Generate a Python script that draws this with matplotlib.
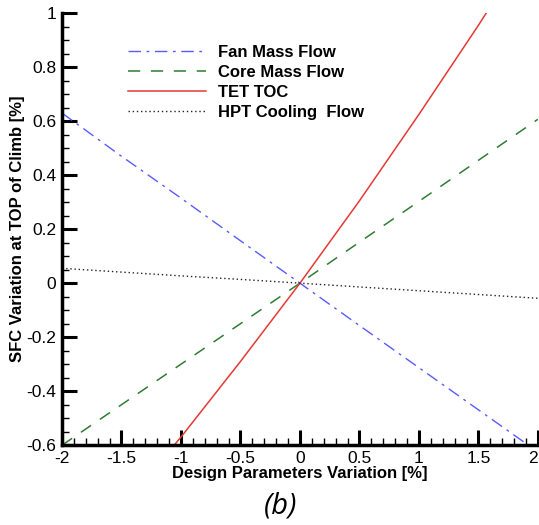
import matplotlib.pyplot as plt
import numpy as np

variation = np.array([-2.0, -1.5, -1.0, -0.5, 0.0, 0.5, 1.0, 1.5, 2.0])
fan_mass_flow = np.array([0.63, 0.47, 0.315, 0.157, 0.0, -0.157, -0.313, -0.469, -0.625])
core_mass_flow = np.array([-0.60, -0.45, -0.30, -0.15, 0.0, 0.152, 0.303, 0.455, 0.607])
tet_toc = np.array([-1.08, -0.83, -0.57, -0.29, 0.0, 0.305, 0.625, 0.955, 1.30])
hpt_cooling = np.array([0.055, 0.041, 0.027, 0.014, 0.0, -0.014, -0.028, -0.042, -0.056])

plt.rcParams['font.family'] = ['Liberation Sans', 'DejaVu Sans']

fig = plt.figure(figsize=(5.39, 5.25), dpi=100)
ax = fig.add_axes([0.115, 0.152, 0.883, 0.823])

ax.plot(variation, fan_mass_flow, color='#5a5aff', lw=1.0,
        dashes=(9, 4, 2, 4), label='Fan Mass Flow')
ax.plot(variation, core_mass_flow, color='#2e7d32', lw=1.1,
        dashes=(8, 7), label='Core Mass Flow')
ax.plot(variation, tet_toc, color='#e53935', lw=1.1, label='TET TOC')
ax.plot(variation, hpt_cooling, color='#222222', lw=1.0,
        dashes=(1, 2), label='HPT Cooling  Flow')

ax.set_xlim(-2, 2)
ax.set_ylim(-0.6, 1)
ax.set_xticks(np.arange(-2, 2.01, 0.5))
ax.set_xticks(np.arange(-2, 2.01, 0.1), minor=True)
ax.set_yticks(np.arange(-0.6, 1.01, 0.2))
ax.set_yticks(np.arange(-0.6, 1.01, 0.05), minor=True)
ax.set_xticklabels(['-2', '-1.5', '-1', '-0.5', '0', '0.5', '1', '1.5', '2'])
ax.set_yticklabels(['-0.6', '-0.4', '-0.2', '0', '0.2', '0.4', '0.6', '0.8', '1'])

ax.spines['top'].set_visible(False)
ax.spines['right'].set_visible(False)
ax.spines['left'].set_linewidth(2.5)
ax.spines['bottom'].set_linewidth(2.5)
ax.tick_params(which='major', direction='in', length=11, width=2.2,
               labelsize=12.5, pad=4)
ax.tick_params(which='minor', direction='in', length=5, width=1.0)
# the last x label sits right on the figure edge
ax.get_xticklabels()[-1].set_horizontalalignment('right')

ax.set_xlabel('Design Parameters Variation [%]', fontsize=12,
              fontweight='bold', labelpad=0)
ax.set_ylabel('SFC Variation at TOP of Climb [%]', fontsize=12,
              fontweight='bold', labelpad=1)

leg = ax.legend(loc='upper left', bbox_to_anchor=(0.107, 0.962), frameon=False,
                handlelength=4.7, handletextpad=0.7, labelspacing=0.3,
                prop={'weight': 'bold', 'size': 12})

fig.text(0.52, 0.036, '(b)', fontsize=21, style='italic',
         family='Open Sans', ha='center', va='center')

fig.savefig('out.png', dpi=100)
